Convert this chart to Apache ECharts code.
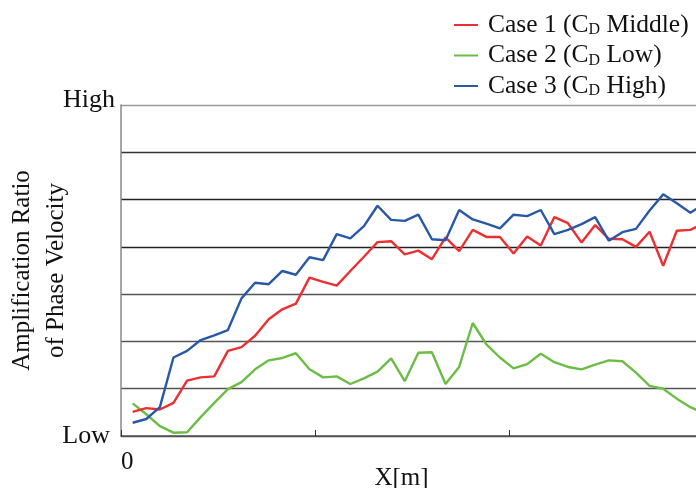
<!DOCTYPE html>
<html>
<head>
<meta charset="utf-8">
<script src="https://cdn.jsdelivr.net/npm/echarts@6/dist/echarts.min.js"></script>
<style>html,body{margin:0;padding:0;background:#fff;}#c{width:696px;height:488px;}</style>
</head>
<body>
<div id="c"></div>
<script>
const xValues = [6,13,20,27,34,41,48,55,62,69,76,83,90,97,104,111,118,125,132,139,146,153,160,167,174,181,188,195,202,209,216,223,230,237,244,251,258,265,272,279,286,293,300];
const case1Middle = [0.51,0.59,0.56,0.70,1.17,1.24,1.26,1.80,1.88,2.12,2.47,2.68,2.80,3.35,3.26,3.18,3.49,3.79,4.10,4.12,3.84,3.92,3.74,4.20,3.91,4.36,4.21,4.21,3.86,4.22,4.03,4.63,4.50,4.09,4.46,4.17,4.16,4.00,4.32,3.60,4.34,4.36,4.50];
const case2Low = [0.69,0.46,0.21,0.07,0.08,0.40,0.70,0.99,1.14,1.41,1.60,1.65,1.75,1.41,1.24,1.26,1.10,1.22,1.36,1.64,1.16,1.76,1.77,1.10,1.46,2.39,1.94,1.66,1.43,1.52,1.74,1.56,1.46,1.41,1.51,1.60,1.58,1.34,1.06,1.00,0.79,0.61,0.48];
const case3High = [0.28,0.36,0.61,1.66,1.80,2.03,2.13,2.24,2.91,3.24,3.21,3.49,3.41,3.78,3.72,4.27,4.18,4.44,4.87,4.57,4.55,4.68,4.16,4.14,4.78,4.58,4.49,4.39,4.68,4.65,4.78,4.27,4.36,4.48,4.63,4.13,4.31,4.38,4.77,5.11,4.92,4.72,4.91];
const seriesNames = ['Case 1 (C_D Middle)', 'Case 2 (C_D Low)', 'Case 3 (C_D High)'];
const yTickLabels = {0: 'Low', 7: 'High'};
const xTickLabels = {0: '0'};

const FONT = '"Liberation Serif", "Times New Roman", serif';
const colors = ['#ec2f32', '#6cbd45', '#2858a6'];
const chart = echarts.init(document.getElementById('c'), null, {renderer: 'canvas'});

function pairs(arr) { return xValues.map((x, i) => [x, arr[i]]); }

chart.setOption({
  animation: false,
  backgroundColor: '#fff',
  grid: {left: 121, top: 105, width: 583, height: 331, containLabel: false, outerBoundsMode: 'none'},
  legend: {
    orient: 'vertical',
    left: 449,
    top: 7,
    itemWidth: 24,
    itemHeight: 2,
    itemGap: 4.5,
    icon: 'rect',
    data: seriesNames,
    formatter: function (name) {
      const parts = name.split('_');
      return parts[0] + '{sub|' + parts[1].charAt(0) + '}' + parts[1].slice(1);
    },
    textStyle: {
      fontFamily: FONT, fontSize: 25.5, color: '#111', padding: [0, 0, 0, 5], lineHeight: 26,
      rich: {sub: {fontFamily: FONT, fontSize: 16, verticalAlign: 'bottom', padding: [8, 0, 0, 0], color: '#111'}}
    }
  },
  xAxis: {
    type: 'value', min: 0, max: 300, interval: 100,
    name: 'X[m]', nameLocation: 'middle', nameGap: 30, nameMoveOverlap: false,
    nameTextStyle: {fontFamily: FONT, fontSize: 25, color: '#111', padding: [0, 22, 0, 0]},
    axisLine: {show: true, lineStyle: {color: '#555', width: 1.5}},
    axisTick: {show: true, inside: true, length: 6, lineStyle: {color: '#333'}},
    axisLabel: {
      formatter: v => xTickLabels[v] !== undefined ? xTickLabels[v] : '',
      fontFamily: FONT, fontSize: 25, color: '#111', margin: 14, align: 'left'
    },
    splitLine: {show: false}
  },
  yAxis: {
    type: 'value', min: 0, max: 7, interval: 1,
    name: 'Amplification Ratio\nof Phase Velocity', nameLocation: 'middle', nameGap: 48, nameRotate: 90, nameMoveOverlap: false,
    nameTextStyle: {fontFamily: FONT, fontSize: 25, color: '#111', lineHeight: 34},
    axisLine: {show: true, lineStyle: {color: '#888', width: 1.5}},
    axisTick: {show: false},
    axisLabel: {
      formatter: v => v === 7 ? '{hi|' + yTickLabels[7] + '}' : (v === 0 ? '{lo|' + yTickLabels[0] + '}' : ''),
      fontFamily: FONT, fontSize: 26, color: '#111', margin: 6,
      rich: {
        hi: {fontFamily: FONT, fontSize: 26, color: '#111', padding: [0, 0, 10, 0]},
        lo: {fontFamily: FONT, fontSize: 26, color: '#111', padding: [0, 5, 0, 0]}
      }
    },
    splitLine: {show: true, showMinLine: true, showMaxLine: true,
      lineStyle: {color: ['#444', '#555', '#555', '#555', '#222', '#222', '#333', '#999'], width: 1.3}}
  },
  series: [
    {name: seriesNames[0], type: 'line', data: pairs(case1Middle), showSymbol: false, symbol: 'none',
      lineStyle: {color: colors[0], width: 2.4}, itemStyle: {color: colors[0]}, z: 3},
    {name: seriesNames[1], type: 'line', data: pairs(case2Low), showSymbol: false, symbol: 'none',
      lineStyle: {color: colors[1], width: 2.4}, itemStyle: {color: colors[1]}, z: 2},
    {name: seriesNames[2], type: 'line', data: pairs(case3High), showSymbol: false, symbol: 'none',
      lineStyle: {color: colors[2], width: 2.4}, itemStyle: {color: colors[2]}, z: 4}
  ]
});
</script>
</body>
</html>
